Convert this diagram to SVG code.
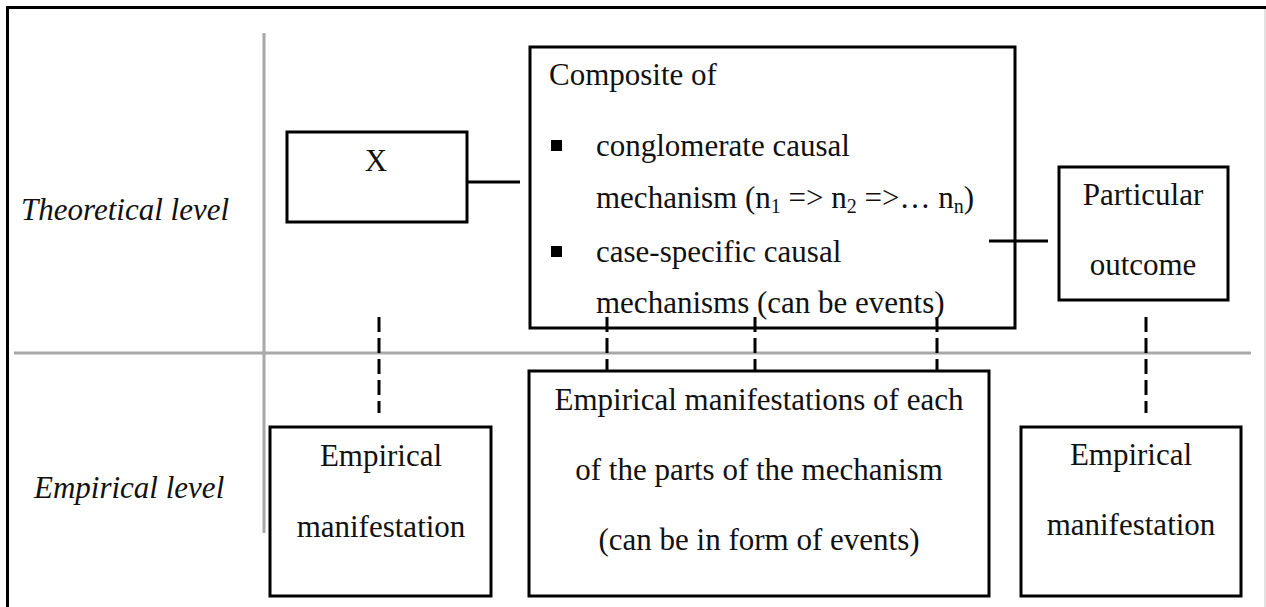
<svg xmlns="http://www.w3.org/2000/svg" width="1266" height="607" viewBox="0 0 1266 607">
  <style>
    .box { fill: #ffffff; stroke: #000000; stroke-width: 3; }
    .t { font-family: "Liberation Serif", "Times New Roman", serif; font-size: 31px; fill: #111111; }
    .c { text-anchor: middle; }
    .lvl { font-family: "Liberation Serif", "Times New Roman", serif; font-size: 31px; font-style: italic; fill: #111111; }
    .axis { stroke: #a8a8a8; stroke-width: 3; fill: none; }
    .solid { stroke: #000000; stroke-width: 3; fill: none; }
    .dash { stroke: #000000; stroke-width: 3; fill: none; stroke-dasharray: 15 6; }
    .sub { font-size: 20px; }
  </style>
  <rect x="0" y="0" width="1266" height="607" fill="#ffffff"/>
  <!-- frame -->
  <g id="frame">
    <line x1="7" y1="7.5" x2="1266" y2="7.5" stroke="#000" stroke-width="3"/>
    <line x1="7.5" y1="6" x2="7.5" y2="607" stroke="#000" stroke-width="3"/>
    <line x1="1265" y1="9" x2="1265" y2="607" stroke="#d8d8d8" stroke-width="1.5"/>
  </g>
  <!-- axes -->
  <g id="axes">
    <line class="axis" x1="264" y1="33" x2="264" y2="533"/>
    <line class="axis" x1="14" y1="353" x2="1251" y2="353"/>
  </g>
  <g id="label-theoretical">
    <text class="lvl" x="21" y="220">Theoretical level</text>
  </g>
  <g id="label-empirical">
    <text class="lvl" x="34" y="498">Empirical level</text>
  </g>
  <!-- connectors -->
  <g id="connectors">
    <line class="solid" x1="467" y1="182" x2="520" y2="182"/>
    <line class="solid" x1="989" y1="241" x2="1048" y2="241"/>
    <line class="dash" x1="379" y1="317" x2="379" y2="413"/>
    <line class="dash" x1="607" y1="317" x2="607" y2="372"/>
    <line class="dash" x1="755" y1="317" x2="755" y2="372"/>
    <line class="dash" x1="937" y1="317" x2="937" y2="372"/>
    <line class="dash" x1="1146" y1="317" x2="1146" y2="413"/>
  </g>
  <g id="node-x">
    <rect class="box" x="287" y="132" width="180" height="90"/>
    <text class="t c" x="376" y="171">X</text>
  </g>
  <g id="node-composite">
    <rect class="box" x="530" y="47" width="485" height="281" fill="none" style="fill:none"/>
    <text class="t" x="549" y="85">Composite of</text>
    <rect x="551" y="140" width="11" height="11" fill="#000"/>
    <text class="t" x="596" y="156">conglomerate causal</text>
    <text class="t" x="596" y="208">mechanism (n<tspan class="sub" dy="5">1</tspan><tspan dy="-5"> =&gt; n</tspan><tspan class="sub" dy="5">2</tspan><tspan dy="-5"> =&gt;… n</tspan><tspan class="sub" dy="5">n</tspan><tspan dy="-5">)</tspan></text>
    <rect x="551" y="246" width="11" height="11" fill="#000"/>
    <text class="t" x="596" y="262">case-specific causal</text>
    <text class="t" x="596" y="313">mechanisms (can be events)</text>
  </g>
  <g id="node-outcome">
    <rect class="box" x="1059" y="167" width="169" height="133"/>
    <text class="t c" x="1143" y="205">Particular</text>
    <text class="t c" x="1143" y="275">outcome</text>
  </g>
  <g id="node-emp-left">
    <rect class="box" x="270" y="427" width="221" height="169"/>
    <text class="t c" x="381" y="466">Empirical</text>
    <text class="t c" x="381" y="537">manifestation</text>
  </g>
  <g id="node-emp-mid">
    <rect class="box" x="529" y="371" width="460" height="225"/>
    <text class="t c" x="759" y="410">Empirical manifestations of each</text>
    <text class="t c" x="759" y="480">of the parts of the mechanism</text>
    <text class="t c" x="759" y="550">(can be in form of events)</text>
  </g>
  <g id="node-emp-right">
    <rect class="box" x="1021" y="427" width="220" height="169"/>
    <text class="t c" x="1131" y="465">Empirical</text>
    <text class="t c" x="1131" y="535">manifestation</text>
  </g>
</svg>
